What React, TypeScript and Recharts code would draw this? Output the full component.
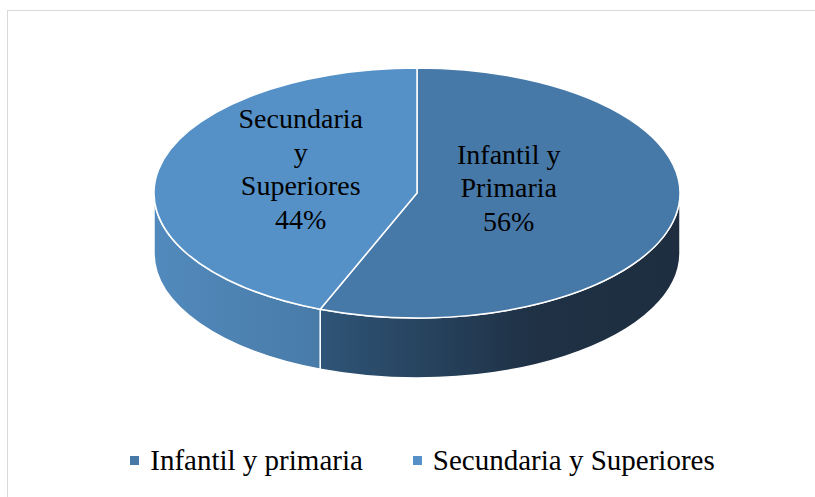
import { PieChart, Pie, Cell, Legend } from "recharts";

const categories = ["Infantil y primaria", "Secundaria y Superiores"];
const values = [56, 44];
const labelLines = [["Infantil y", "Primaria"], ["Secundaria", "y", "Superiores"]];

const topColors = ["#4779a8", "#5591c7"];
const sideStops = [
  ["#30587c", "#30587c", "#1f3145", "#1e2e40"],
  ["#528abd", "#4a7eac", "#436f99", "#3c6890"],
];

const data = categories.map((name, i) => ({ name, value: values[i] }));

const SERIF = "Liberation Serif, Times New Roman, Tinos, DejaVu Serif, serif";
const RY_RATIO = 125 / 263;
const DEPTH = 60;
// label radial fraction per slice (3d pie centroids differ from flat ones)
const LABEL_FRAC = [0.355, 0.45];

const rad = (a: number) => (a * Math.PI) / 180;

function Slice3D(props: any) {
  const { cx, cy, outerRadius, startAngle, endAngle, index } = props;
  const rx = outerRadius;
  const ry = outerRadius * RY_RATIO;
  const pt = (a: number, dy = 0) => [cx + rx * Math.cos(rad(a)), cy - ry * Math.sin(rad(a)) + dy];

  const lo = Math.min(startAngle, endAngle);
  const hi = Math.max(startAngle, endAngle);
  const walls: Array<[number, number]> = [];
  for (const k of [-1, 0, 1]) {
    const a = Math.max(lo, -180 + 360 * k);
    const b = Math.min(hi, 360 * k);
    if (b > a) walls.push([a, b]);
  }

  const [sx, sy] = pt(startAngle);
  const [ex, ey] = pt(endAngle);
  const large = Math.abs(endAngle - startAngle) > 180 ? 1 : 0;
  const top = `M${cx},${cy} L${sx},${sy} A${rx},${ry} 0 ${large} 1 ${ex},${ey} Z`;
  const gid = `side-grad-${index}`;
  const stops = sideStops[index];

  return (
    <g>
      <defs>
        <linearGradient id={gid} gradientUnits="userSpaceOnUse" x1={cx - rx} y1={0} x2={cx + rx} y2={0}>
          <stop offset="0%" stopColor={stops[0]} />
          <stop offset={index === 0 ? "28%" : "25%"} stopColor={stops[1]} />
          <stop offset={index === 0 ? "72%" : "60%"} stopColor={stops[2]} />
          <stop offset="100%" stopColor={stops[3]} />
        </linearGradient>
      </defs>
      {walls.map(([a, b], i) => {
        const [ax, ay] = pt(a);
        const [bx, by] = pt(b);
        const [bx2, by2] = pt(b, DEPTH);
        const [ax2, ay2] = pt(a, DEPTH);
        const lg = b - a > 180 ? 1 : 0;
        const d = `M${ax},${ay} A${rx},${ry} 0 ${lg} 0 ${bx},${by} L${bx2},${by2} A${rx},${ry} 0 ${lg} 1 ${ax2},${ay2} Z`;
        return <path key={i} d={d} fill={`url(#${gid})`} stroke="#ffffff" strokeWidth={1.5} />;
      })}
      <path d={top} fill={topColors[index]} stroke="#ffffff" strokeWidth={1.5} />
    </g>
  );
}

function renderLabel(props: any) {
  const { cx, cy, midAngle, outerRadius, percent, index } = props;
  const f = LABEL_FRAC[index];
  const ry = outerRadius * RY_RATIO;
  const x = cx + outerRadius * f * Math.cos(rad(midAngle));
  const yc = cy - ry * f * Math.sin(rad(midAngle)) - 14;
  const lines = [...labelLines[index], `${Math.round(percent * 100)}%`];
  const lh = 33.5;
  const y0 = yc - ((lines.length - 1) * lh) / 2;
  return (
    <text
      x={x}
      y={y0}
      textAnchor="middle"
      dominantBaseline="central"
      style={{ fontFamily: SERIF }}
      fontSize={28}
      fill="#000"
    >
      {lines.map((l, i) => (
        <tspan key={i} x={x} y={y0 + i * lh}>
          {l}
        </tspan>
      ))}
    </text>
  );
}

function LegendContent(props: any) {
  const { payload } = props;
  return (
    <div style={{ display: "flex", justifyContent: "center", alignItems: "center", paddingLeft: 30 }}>
      {(payload || []).map((entry: any, i: number) => (
        <div key={i} style={{ display: "flex", alignItems: "center", marginRight: i === 0 ? 50 : 0 }}>
          <span style={{ width: 9, height: 9, background: topColors[i], display: "inline-block", marginRight: 11 }} />
          <span style={{ fontFamily: SERIF, fontSize: 29, color: "#000" }}>{entry.value}</span>
        </div>
      ))}
    </div>
  );
}

export default function App() {
  return (
    <div style={{ position: "absolute", left: 0, top: 0, width: 815, height: 497, background: "#fff", overflow: "hidden" }}>
      <div
        style={{
          position: "absolute",
          left: 7,
          top: 10,
          width: 830,
          height: 520,
          border: "1.5px solid #d9d9d9",
        }}
      />
      <div style={{ position: "absolute", left: 0, top: 0 }}>
        <PieChart width={815} height={497} margin={{ top: 0, right: 0, bottom: 0, left: 0 }}>
          <Pie
            data={data}
            dataKey="value"
            nameKey="name"
            cx={417}
            cy={193}
            outerRadius={263}
            startAngle={90}
            endAngle={-270}
            stroke="#fff"
            shape={Slice3D}
            label={renderLabel}
            labelLine={false}
            isAnimationActive={false}
          >
            {data.map((d, i) => (
              <Cell key={d.name} fill={topColors[i]} />
            ))}
          </Pie>
          <Legend
            verticalAlign="bottom"
            content={LegendContent}
            wrapperStyle={{ top: 444, left: 0, width: 815, bottom: "auto" }}
          />
        </PieChart>
      </div>
    </div>
  );
}
